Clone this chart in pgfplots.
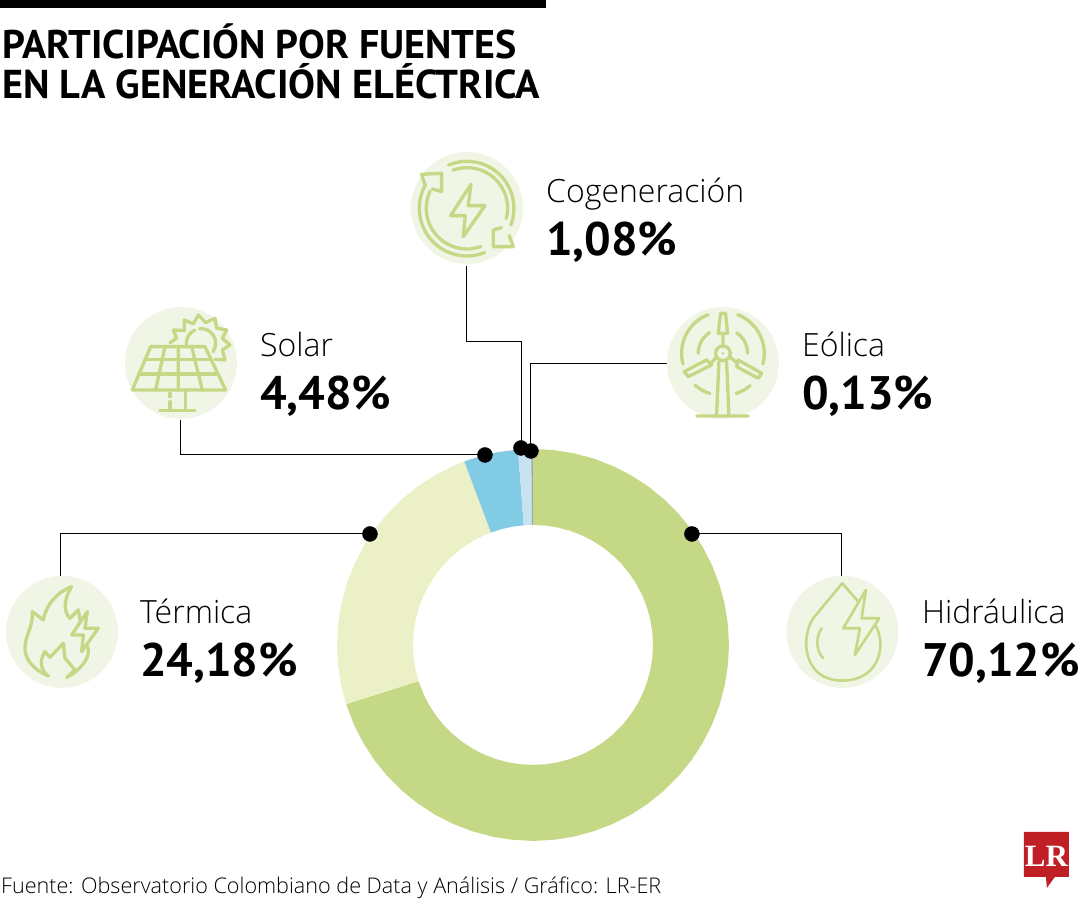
\documentclass[border=0pt]{standalone}
\usepackage{fontspec}
\setmainfont{PT Sans}
\newfontfamily\lightfont{Open Sans Light}
\newfontfamily\logofont{Liberation Serif}
\usepackage{pgfplots}
\pgfplotsset{compat=1.18}

\definecolor{hidro}{HTML}{C5D886}
\definecolor{termica}{HTML}{ECF0C6}
\definecolor{solar}{HTML}{82CBE5}
\definecolor{cogen}{HTML}{C7E3F1}
\definecolor{eolica}{HTML}{A6A6A6}
\definecolor{halo}{HTML}{F1F5E6}
\definecolor{lr}{HTML}{C01F25}

\newcommand{\lab}[4]{\node[anchor=base west,inner sep=0pt] at (axis cs:#1,#2) {\fontsize{32}{32}\lightfont #3};
  \node[anchor=base west,inner sep=0pt] at (axis cs:#1,#2+53) {\fontsize{47}{47}\selectfont\bfseries #4};}
% arc helper: centre x, centre y, radius, start, end (y points down in the icons)
\newcommand{\arcc}[5]{\draw ([shift={(#1,#2)}]#4:#3) arc[start angle=#4,end angle=#5,radius=#3];}
\tikzset{icon/.style={x=0.3333pt,y=-0.3333pt,shift={(#1)},draw=hidro,line width=3.3pt,line cap=round,line join=round}}

\pgfplotsset{base/.style={at={(0,0)},anchor=south west,scale only axis,width=1080pt,height=900pt,hide axis,clip=false}}

\begin{document}
\begin{tikzpicture}
% donut, origin at the centre of the ring
\begin{axis}[base,xmin=-533,xmax=547,ymin=-255,ymax=645]
% Hidraulica 70,12
\addplot[fill=hidro,draw=none,data cs=polar] coordinates {
(90,196)(84,196)(78,196)(72,196)(66,196)(60,196)(54,196)(48,196)(42,196)(36,196)(30,196)(24,196)(18,196)(12,196)(6,196)(0,196)
(-6,196)(-12,196)(-18,196)(-24,196)(-30,196)(-36,196)(-42,196)(-48,196)(-54,196)(-60,196)(-66,196)(-72,196)(-78,196)(-84,196)(-90,196)
(-96,196)(-102,196)(-108,196)(-114,196)(-120,196)(-126,196)(-132,196)(-138,196)(-144,196)(-150,196)(-156,196)(-162,196)(-162.43,196)
(-162.43,120)(-162,120)(-156,120)(-150,120)(-144,120)(-138,120)(-132,120)(-126,120)(-120,120)(-114,120)(-108,120)(-102,120)(-96,120)
(-90,120)(-84,120)(-78,120)(-72,120)(-66,120)(-60,120)(-54,120)(-48,120)(-42,120)(-36,120)(-30,120)(-24,120)(-18,120)(-12,120)(-6,120)
(0,120)(6,120)(12,120)(18,120)(24,120)(30,120)(36,120)(42,120)(48,120)(54,120)(60,120)(66,120)(72,120)(78,120)(84,120)(90,120)
} --cycle;
% Termica 24,18
\addplot[fill=termica,draw=none,data cs=polar] coordinates {
(197.57,196)(192,196)(186,196)(180,196)(174,196)(168,196)(162,196)(156,196)(150,196)(144,196)(138,196)(132,196)(126,196)(120,196)(114,196)(110.52,196)
(110.52,120)(114,120)(120,120)(126,120)(132,120)(138,120)(144,120)(150,120)(156,120)(162,120)(168,120)(174,120)(180,120)(186,120)(192,120)(197.57,120)
} --cycle;
% Solar 4,48
\addplot[fill=solar,draw=none,data cs=polar] coordinates {
(110.52,196)(105,196)(100,196)(94.39,196)(94.39,120)(100,120)(105,120)(110.52,120)
} --cycle;
% Cogeneracion 1,08
\addplot[fill=cogen,draw=none,data cs=polar] coordinates {
(94.39,196)(92.5,196)(90.5,196)(90.5,120)(92.5,120)(94.39,120)
} --cycle;
% Eolica 0,13
\addplot[fill=eolica,draw=none,data cs=polar] coordinates {
(90.5,196)(90.03,196)(90.03,120)(90.5,120)
} --cycle;
\end{axis}
% everything else, in the pixels of the picture
\begin{axis}[base,xmin=0,xmax=1080,ymin=0,ymax=900,y dir=reverse]
\addplot[fill=black,draw=none] coordinates {(0,0)(546,0)(546,8)(0,8)} --cycle;
% leaders
\addplot[black,line width=1pt] coordinates {(692,534)(842,534)(842,576)};
\addplot[black,line width=1pt] coordinates {(370,534)(61,534)(61,576)};
\addplot[black,line width=1pt] coordinates {(485,455)(181,455)(181,420)};
\addplot[black,line width=1pt] coordinates {(522,448)(522,342)(467,342)(467,266)};
\addplot[black,line width=1pt] coordinates {(531,451)(531,364)(667,364)};
\addplot[only marks,mark=*,mark size=7.5pt,mark options={fill=black,draw=none}] coordinates {(692,534)(370,534)(485,455)(521,448)(531,451)};

\node[anchor=base west,inner sep=0pt] at (axis cs:2,59) {\fontsize{40}{40}\selectfont\bfseries PARTICIPACIÓN POR FUENTES};
\node[anchor=base west,inner sep=0pt] at (axis cs:2,99) {\fontsize{40.3}{40}\selectfont\bfseries EN LA GENERACIÓN ELÉCTRICA};
\lab{546}{203}{Cogeneración}{1,08\%}
\lab{260}{357}{Solar}{4,48\%}
\lab{802}{357}{Eólica}{0,13\%}
\lab{140}{624}{Térmica}{24,18\%}
\lab{922}{624}{Hidráulica}{70,12\%}
\node[anchor=base west,inner sep=0pt] at (axis cs:1,894) {\fontsize{21.6}{22}\lightfont Fuente: Observatorio Colombiano de Data y Análisis / Gráfico: LR-ER};
\end{axis}
% icons, in the pixels of 3x crops
\fill[halo] (467pt,692pt) circle (56pt);
\fill[halo] (181pt,537pt) circle (56pt);
\fill[halo] (723pt,537pt) circle (56pt);
\fill[halo] (62pt,268pt) circle (56pt);
\fill[halo] (842.5pt,268pt) circle (56pt);
% cogeneracion
\begin{scope}[icon={400pt,755pt}]
\arcc{201}{190}{141}{-113}{21}
\arcc{201}{190}{122}{-110}{15}
\arcc{201}{190}{143}{68}{210}
\arcc{201}{190}{122}{70}{205}
\draw (75,120)--(65,88)--(125,85)--(125,140)--(97,132);
\draw (305,248)--(280,255)--(280,305)--(340,305)--(328,272);
\draw (213,118)--(152,212)--(196,212)--(190,275)--(255,182)--(205,182)--cycle;
\end{scope}
% solar
\begin{scope}[icon={115pt,600pt}]
\draw (107,140)--(270,140)--(332,270)--(52,270)--cycle;
\draw (90,178)--(288,178) (72,222)--(309,222);
\draw (150,140)--(122,270) (190,140)--(190,270) (230,140)--(262,270);
\draw (165,280)--(165,290) (165,305)--(165,330) (212,270)--(212,330) (135,332)--(240,332);
\draw (165,128)--(185,115)--(175,90)--(208,92)--(208,60)--(235,72)--(250,45)--(272,68)--(300,55)--(305,85)--(335,90)--(322,115)--(345,135)--(322,150)--(330,180)--(300,178);
\arcc{258}{130}{44}{175}{245}
\arcc{258}{130}{44}{265}{395}
\end{scope}
% eolica
\begin{scope}[icon={655pt,600pt}]
\draw (204,160) circle[radius=22];
\fill[hidro] (204,160) circle[radius=4];
\draw (190,100)--(197,40)--(212,40)--(218,100)--cycle (204,100)--(204,138);
\draw (88,215)--(155,180)--(170,195)--(100,230)--cycle (170,188)--(184,172);
\draw (250,180)--(320,220)--(310,235)--(245,200)--cycle (224,170)--(247,190);
\draw (192,185)--(185,345) (215,185)--(222,345) (125,348)--(280,348);
\arcc{204}{160}{124}{249}{165}
\arcc{204}{160}{124}{291}{375}
\arcc{204}{160}{127}{131}{108}
\arcc{204}{160}{127}{72}{50}
\arcc{204}{160}{74}{237}{180}
\arcc{204}{160}{74}{304}{360}
\end{scope}
% termica
\begin{scope}[icon={0pt,330pt}]
\draw (145,318) .. controls (100,300) and (72,265) .. (75,230) .. controls (78,190) and (100,170) .. (97,125) -- (130,150) .. controls (140,100) and (175,65) .. (215,50) .. controls (190,90) and (190,125) .. (210,145) -- (235,120) -- (240,150);
\draw (262,125)--(215,195)--(250,195)--(245,245)--(295,175)--(255,175)--cycle;
\draw (262,228) .. controls (275,255) and (250,295) .. (200,323) -- (225,300) -- (195,265) -- (190,220) -- (150,262) -- (135,245) .. controls (115,275) and (125,305) .. (145,318);
\end{scope}
% hidraulica
\begin{scope}[icon={780pt,330pt},line width=2.6pt]
\draw (235,95)--(187,40)--(100,145) .. controls (60,205) and (70,332) .. (187,332) .. controls (305,332) and (320,215) .. (285,165);
\draw (258,60)--(190,175)--(240,175)--(225,255)--(298,145)--(245,145)--cycle;
\draw (125,175) .. controls (105,205) and (110,245) .. (130,265);
\end{scope}
% logo
\fill[lr] (1024pt,68pt)--(1069pt,68pt)--(1069pt,23pt)--(1055pt,23pt)--(1047pt,12pt)--(1046pt,23pt)--(1024pt,23pt)--cycle;
\node[text=white,inner sep=0pt,anchor=base] at (1046.5pt,33pt) {\fontsize{31}{31}\logofont\bfseries LR};
\path[use as bounding box] (0,0) rectangle (1080pt,900pt);
\end{tikzpicture}
\end{document}
